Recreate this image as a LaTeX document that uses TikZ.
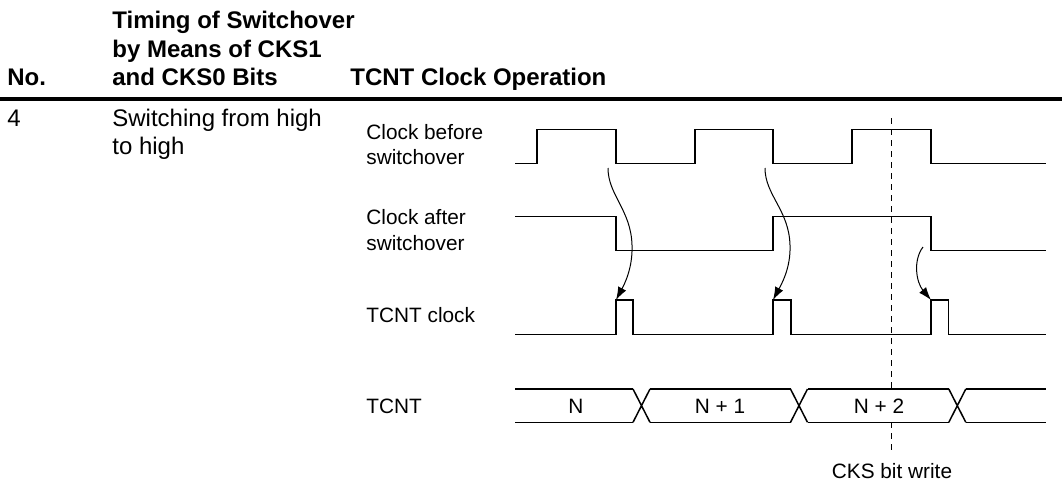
\documentclass[tikz,border=0pt]{standalone}
\usepackage{fontspec}
\setmainfont{Liberation Sans}
\usetikzlibrary{arrows.meta}

\begin{document}
\begin{tikzpicture}[x=0.5pt, y=-0.5pt,
    wave/.style={line width=0.75pt},
    hd/.style={anchor=base west, inner sep=0, font=\fontsize{12}{14}\selectfont\bfseries},
    txt/.style={anchor=base west, inner sep=0, font=\fontsize{12}{14}\selectfont},
    lbl/.style={anchor=base west, inner sep=0, font=\fontsize{10.4}{12.5}\selectfont},
    val/.style={anchor=base, inner sep=0, font=\fontsize{10.4}{12.5}\selectfont},
    dsh/.style={line width=0.5pt, dash pattern=on 3pt off 2.5pt},
    sw/.style={line width=0.5pt, -{Latex[length=6.5pt,width=4.5pt]}}]
        \useasboundingbox (0,0) rectangle (1062,495);
        \node[hd] (no) at (7,85) {No.};
        \node[hd] (tim1) at (112,28.6) {Timing of Switchover};
        \node[hd] (tim2) at (112,57) {by Means of CKS1};
        \node[hd] (tim3) at (112,85) {and CKS0 Bits};
        \node[hd] (oper) at (350,85) {TCNT Clock Operation};
        \draw[line width=1.75pt] (0,99) -- (1062,99);
        \node[txt] (num) at (7,126.6) {4};
        \node[txt] (sw1) at (112,126.6) {Switching from high};
        \node[txt] (sw2) at (112,154.6) {to high};
        \foreach \n/\y/\t in {cb1/139.5/Clock before, cb2/164.5/switchover, ca1/224.5/Clock after,
            ca2/250.5/switchover, tck/322.5/TCNT clock, tcnt/413.5/TCNT}
          \node[lbl] (\n) at (366,\y) {\t};
        \draw[wave] (515,163.5) -| (537,129.5) -| (616,163.5) -| (695,129.5) -| (773,163.5)
          -| (852,129.5) -| (931,163.5) -- (1046,163.5);
        \draw[wave] (515,216.7) -| (616,250.7) -| (773,216.7) -| (931,250.7) -- (1046,250.7);
        \draw[wave] (515,334.3) -| (616,300) -| (633,334.3) -| (773,300) -| (791,334.3)
          -| (931,300) -| (948.7,334.3) -- (1046,334.3);
        \foreach \a/\b in {515/633, 650/790.5, 807.5/948.8, 965.8/1046}
          \draw[wave] (\a,389) -- (\b,389) (\a,422.3) -- (\b,422.3);
        \foreach \c in {641.5,799,957.3}
          \draw[wave] ({\c-8.5},389) -- ({\c+8.5},422.3) ({\c-8.5},422.3) -- ({\c+8.5},389);
        \node[val] (vn) at (576,413) {N};
        \node[val] (vn1) at (720,413) {N + 1};
        \node[val] (vn2) at (879,413) {N + 2};
        \coordinate (wtop) at (891.3,118);
        \coordinate (wbus1) at (891.3,389);
        \coordinate (wbus2) at (891.3,422.3);
        \coordinate (wbot) at (891.3,451);
        \node[val] (ckw) at (892,478.5) {CKS bit write};
        \draw[dsh] (wtop) -- (wbus1);
        \draw[dsh] (wbus2) -- (wbot);
        \coordinate (s1) at (608,168);
        \coordinate (e1) at (616,300);
        \coordinate (s2) at (765,168);
        \coordinate (e2) at (773,300);
        \coordinate (s3) at (923,247);
        \coordinate (e3) at (931,300);
        \draw[sw] (s1) .. controls (608,195) and (631,210) .. (632,245) .. controls (633,268) and (624,285) .. (e1);
        \draw[sw] (s2) .. controls (765,195) and (789,210) .. (790,245) .. controls (791,268) and (781,285) .. (e2);
        \draw[sw] (s3) .. controls (913,260) and (916,282) .. (e3);
      \end{tikzpicture}
\end{document}
